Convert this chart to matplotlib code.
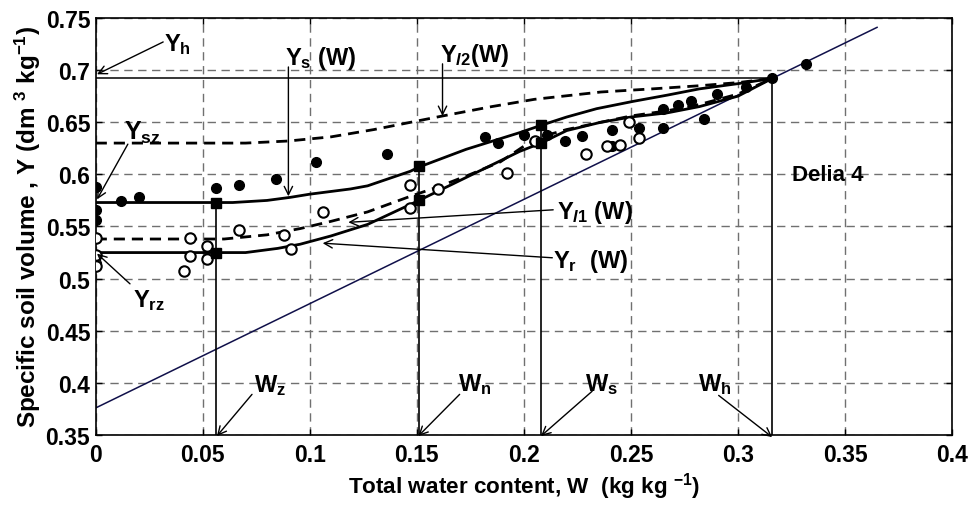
import matplotlib
matplotlib.use("Agg")
import matplotlib.pyplot as plt

plt.rcParams['font.family'] = ['Liberation Sans', 'DejaVu Sans']
plt.rcParams['font.weight'] = 'bold'
plt.rcParams['mathtext.fontset'] = 'custom'
plt.rcParams['mathtext.rm'] = 'Liberation Sans:bold'
plt.rcParams['mathtext.bf'] = 'Liberation Sans:bold'
plt.rcParams['mathtext.it'] = 'Liberation Sans:bold:italic'
plt.rcParams['mathtext.default'] = 'rm'

# ---------------- data ----------------
W_filled = [0, 0, 0, 0.012, 0.020, 0.056, 0.067, 0.084, 0.103, 0.136, 0.182, 0.188,
            0.200, 0.211, 0.219, 0.227, 0.241, 0.241, 0.254, 0.265, 0.265, 0.272,
            0.278, 0.284, 0.290, 0.304, 0.316, 0.332]
Y_filled = [0.588, 0.566, 0.556, 0.574, 0.578, 0.587, 0.590, 0.596, 0.612, 0.620, 0.636, 0.630,
            0.638, 0.638, 0.632, 0.637, 0.643, 0.627, 0.644, 0.644, 0.663, 0.667,
            0.670, 0.653, 0.677, 0.684, 0.692, 0.706]

W_open = [0, 0, 0, 0.041, 0.044, 0.044, 0.052, 0.052, 0.067, 0.088, 0.091, 0.106,
          0.147, 0.147, 0.160, 0.192, 0.205, 0.229, 0.239, 0.245, 0.249, 0.254]
Y_open = [0.539, 0.523, 0.512, 0.507, 0.539, 0.522, 0.531, 0.519, 0.547, 0.542, 0.528, 0.564,
          0.590, 0.568, 0.586, 0.601, 0.632, 0.620, 0.627, 0.628, 0.650, 0.635]

W_s = [0, 0.064, 0.08, 0.091, 0.10, 0.119, 0.127, 0.147, 0.151, 0.173, 0.198, 0.208,
       0.220, 0.234, 0.251, 0.267, 0.282, 0.300, 0.316]
Y_s = [0.573, 0.573, 0.575, 0.578, 0.581, 0.586, 0.589, 0.603, 0.607, 0.624, 0.640, 0.647,
       0.655, 0.663, 0.670, 0.676, 0.682, 0.687, 0.692]

W_l2 = [0, 0.07, 0.09, 0.11, 0.13, 0.162, 0.185, 0.205, 0.236, 0.26, 0.282, 0.30, 0.316]
Y_l2 = [0.630, 0.630, 0.632, 0.636, 0.643, 0.656, 0.665, 0.672, 0.679, 0.682, 0.685, 0.688, 0.692]

W_l1 = [0, 0.06, 0.08, 0.0955, 0.11, 0.127, 0.147, 0.16, 0.175, 0.189, 0.20, 0.208,
        0.22, 0.236, 0.25, 0.267, 0.282, 0.30, 0.316]
Y_l1 = [0.538, 0.538, 0.542, 0.548, 0.555, 0.564, 0.579, 0.588, 0.600, 0.612, 0.627, 0.636,
        0.643, 0.650, 0.656, 0.661, 0.667, 0.677, 0.692]

W_r = [0, 0.07, 0.085, 0.0955, 0.11, 0.127, 0.151, 0.173, 0.198, 0.208, 0.22, 0.236,
       0.25, 0.267, 0.282, 0.30, 0.316]
Y_r = [0.525, 0.525, 0.529, 0.533, 0.541, 0.552, 0.575, 0.597, 0.622, 0.630, 0.642, 0.650,
       0.655, 0.659, 0.665, 0.675, 0.692]

W_sat = [0, 0.365]
Y_sat = [0.376, 0.741]

Wz, Wn, Ws, Wh = 0.056, 0.151, 0.208, 0.316
Yh = 0.692
W_sq = [Wz, Wz, Wn, Wn, Ws, Ws]
Y_sq = [0.573, 0.525, 0.608, 0.575, 0.647, 0.630]
W_vert = [Wz, Wn, Ws, Wh]
Y_vert_top = [0.573, 0.608, 0.647, 0.692]

xticks = [0, 0.05, 0.1, 0.15, 0.2, 0.25, 0.3, 0.35, 0.4]
xtick_labels = ['0', '0.05', '0.1', '0.15', '0.2', '0.25', '0.3', '0.35', '0.4']
yticks = [0.35, 0.4, 0.45, 0.5, 0.55, 0.6, 0.65, 0.7, 0.75]
ytick_labels = ['0.35', '0.4', '0.45', '0.5', '0.55', '0.6', '0.65', '0.7', '0.75']

# ---------------- figure ----------------
fig = plt.figure(figsize=(9.73, 5.06), dpi=100)
ax = fig.add_axes([0.0984, 0.1383, 0.88, 0.8242])
ax.set_xlim(0, 0.4)
ax.set_ylim(0.35, 0.75)

ax.grid(True, color='#707070', linestyle=(0, (6, 4)), linewidth=1.0)
ax.set_axisbelow(True)

ax.plot(W_sat, Y_sat, color='#10104a', linewidth=1.1, zorder=2)
ax.plot([0, Wh], [Yh, Yh], color='black', linewidth=1.1, zorder=2)
for w, yt in zip(W_vert, Y_vert_top):
    ax.plot([w, w], [0.35, yt], color='black', linewidth=1.2, zorder=2)

ax.plot(W_l2, Y_l2, color='black', linewidth=2.0, linestyle=(0, (4, 2.5)), zorder=3)
ax.plot(W_l1, Y_l1, color='black', linewidth=2.0, linestyle=(0, (4, 2.5)), zorder=3)
ax.plot(W_s, Y_s, color='black', linewidth=2.0, zorder=3)
ax.plot(W_r, Y_r, color='black', linewidth=2.0, zorder=3)

ax.plot(W_filled, Y_filled, 'o', color='black', markersize=7, zorder=4)
ax.plot(W_open, Y_open, 'o', markerfacecolor='white', markeredgecolor='black',
        markeredgewidth=1.5, markersize=7.5, zorder=4)
ax.plot(W_sq, Y_sq, 's', color='black', markersize=7.5, zorder=5)

ax.set_xticks(xticks)
ax.set_xticklabels(xtick_labels)
ax.set_yticks(yticks)
ax.set_yticklabels(ytick_labels)
ax.tick_params(axis='both', direction='in', length=4, width=1, labelsize=16.5,
               top=True, right=True, pad=6)
ax.tick_params(axis='y', pad=4)
for sp in ax.spines.values():
    sp.set_linewidth(1.2)

ax.set_xlabel('Total water content, W  (kg kg $^{-1}$)', fontsize=16.2, fontweight='bold', labelpad=3)
ax.set_ylabel('Specific soil volume , Y (dm $^{3}$ kg$^{-1}$)', fontsize=17.5, fontweight='bold', labelpad=2)

arrow = dict(arrowstyle='->', color='black', linewidth=1.0, shrinkA=0, shrinkB=0,
             mutation_scale=15)
fs = 17

def ann(txt, tip, tail, txy, size=fs):
    ax.annotate('', xy=tip, xytext=tail, arrowprops=arrow, zorder=6,
                annotation_clip=False)
    ax.text(txy[0], txy[1], txt, fontsize=size, ha='center', va='center', zorder=6)

ann('$Y_h$', (0.0006, 0.696), (0.0315, 0.727), (0.038, 0.725))
ann('$Y_{sz}$', (0.0006, 0.576), (0.015, 0.629), (0.022, 0.641), size=18)
ann('$Y_{rz}$', (0.0006, 0.524), (0.016, 0.495), (0.025, 0.480))
ann('$Y_s$ (W)', (0.090, 0.579), (0.090, 0.703), (0.105, 0.712))
ann(r'$Y_{\mathit{l2}}$(W)', (0.162, 0.656), (0.162, 0.706), (0.177, 0.715))
ann(r'$Y_{\mathit{l1}}$ (W)', (0.118, 0.554), (0.2137, 0.566), (0.233, 0.564))
ann('$Y_r$  (W)', (0.106, 0.534), (0.2133, 0.520), (0.231, 0.517))
ann('$W_z$', (0.0566, 0.349), (0.073, 0.389), (0.0815, 0.398))
ann('$W_n$', (0.1507, 0.349), (0.170, 0.389), (0.177, 0.399))
ann('$W_s$', (0.208, 0.349), (0.2319, 0.392), (0.2365, 0.399))
ann('$W_h$', (0.316, 0.348), (0.291, 0.388), (0.289, 0.399))

ax.text(0.342, 0.600, 'Delia 4', fontsize=16, ha='center', va='center', zorder=6)

fig.savefig('out.png', dpi=100)
